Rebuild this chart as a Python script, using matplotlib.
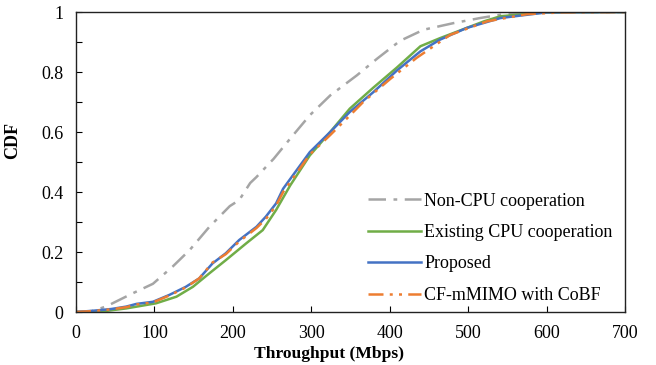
import matplotlib
matplotlib.use("Agg")
import matplotlib.pyplot as plt
from matplotlib.ticker import MultipleLocator

# Data (Throughput in Mbps, CDF)
noncpu_x = [0, 20, 38, 72, 98, 123, 145, 170, 196, 208, 222, 230, 252, 273, 298, 324, 358, 384, 413, 443, 481, 515, 541, 583, 620, 700]
noncpu_y = [0, 0.003, 0.018, 0.062, 0.094, 0.151, 0.207, 0.284, 0.353, 0.373, 0.43, 0.45, 0.511, 0.578, 0.656, 0.722, 0.789, 0.845, 0.904, 0.941, 0.963, 0.98, 0.991, 0.999, 1.0, 1.0]

exist_x = [0, 13, 40, 64, 102, 128, 149, 170, 191, 217, 238, 255, 273, 298, 324, 349, 379, 409, 439, 464, 498, 520, 541, 600, 700]
exist_y = [0, 0, 0.004, 0.012, 0.029, 0.051, 0.084, 0.129, 0.173, 0.229, 0.273, 0.34, 0.422, 0.522, 0.6, 0.678, 0.748, 0.815, 0.886, 0.913, 0.947, 0.969, 0.986, 0.999, 1.0]

prop_x = [0, 21, 45, 64, 77, 98, 119, 140, 157, 174, 191, 208, 230, 242, 255, 264, 298, 324, 349, 379, 409, 439, 464, 498, 541, 600, 700]
prop_y = [0, 0.004, 0.01, 0.018, 0.027, 0.034, 0.057, 0.084, 0.112, 0.162, 0.196, 0.24, 0.284, 0.318, 0.362, 0.411, 0.533, 0.6, 0.667, 0.733, 0.805, 0.869, 0.908, 0.947, 0.98, 0.999, 1.0]

cobf_x = [0, 21, 45, 64, 77, 98, 119, 140, 157, 174, 191, 208, 230, 242, 255, 264, 298, 324, 349, 366, 401, 434, 477, 524, 575, 620, 700]
cobf_y = [0, 0.003, 0.009, 0.016, 0.025, 0.032, 0.055, 0.082, 0.112, 0.165, 0.193, 0.235, 0.28, 0.31, 0.355, 0.4, 0.525, 0.59, 0.655, 0.7, 0.778, 0.847, 0.924, 0.969, 0.993, 0.999, 1.0]

labels = ["Non-CPU cooperation", "Existing CPU cooperation", "Proposed", "CF-mMIMO with CoBF"]
colors = ["#A5A5A5", "#70AD47", "#4472C4", "#ED7D31"]

plt.rcParams['font.family'] = ['Liberation Serif', 'DejaVu Serif']

fig = plt.figure(figsize=(6.56, 3.65), dpi=100)
ax = fig.add_axes([0.1159, 0.1452, 0.8371, 0.8218])

ax.plot(noncpu_x, noncpu_y, color=colors[0], lw=1.8, dashes=(7, 3, 1.5, 3), label=labels[0])
ax.plot(exist_x, exist_y, color=colors[1], lw=1.8, label=labels[1])
ax.plot(prop_x, prop_y, color=colors[2], lw=1.8, label=labels[2])
ax.plot(cobf_x, cobf_y, color=colors[3], lw=1.8, dashes=(6, 2.5, 1.2, 2.5, 1.2, 2.5), label=labels[3])

ax.set_xlim(0, 700)
ax.set_ylim(0, 1)
ax.xaxis.set_major_locator(MultipleLocator(100))
ax.yaxis.set_minor_locator(MultipleLocator(0.1))
ax.set_yticks([0, 0.2, 0.4, 0.6, 0.8, 1.0])
ax.set_yticklabels(["0", "0.2", "0.4", "0.6", "0.8", "1"])
ax.tick_params(axis='both', which='both', direction='in', labelsize=13, length=4, width=0.8)
ax.tick_params(axis='x', pad=9)
ax.tick_params(axis='y', pad=9)
for s in ax.spines.values():
    s.set_linewidth(1.0)
    s.set_color('#222222')

ax.set_xlabel("Throughput (Mbps)", fontsize=12.6, fontweight='bold')
ax.xaxis.set_label_coords(0.46, -0.115)
ax.set_ylabel("CDF", fontsize=13, fontweight='bold')
ax.yaxis.set_label_coords(-0.1, 0.573)

leg = ax.legend(loc='lower right', frameon=False, fontsize=13, handlelength=2.9,
                handletextpad=0.2, labelspacing=0.8, borderaxespad=0.3,
                bbox_to_anchor=(1.0, -0.015))

fig.savefig("out.png", dpi=100)
